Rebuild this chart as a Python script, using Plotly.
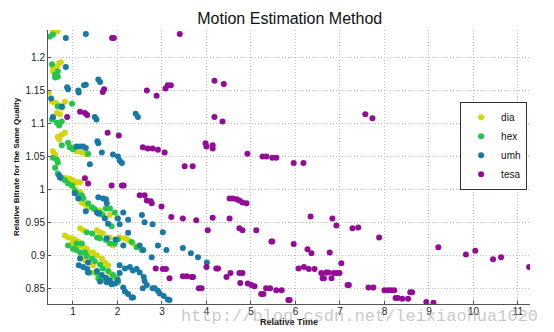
import plotly.graph_objects as go

# Relative time / relative bitrate pairs for each x264 motion estimation method
dia_x = [0.55, 0.64, 0.66, 0.55, 0.60, 0.64, 0.69, 0.55, 0.73,
         0.46, 0.53, 0.60, 0.66, 0.75, 0.82, 0.64, 0.71,
         0.66, 0.75, 0.82, 0.69, 0.98, 1.08, 1.20, 1.27, 1.32, 0.55, 0.60,
         0.78, 0.87, 0.93, 1.00, 1.08, 1.16, 0.98, 1.04, 1.16, 1.20, 1.27, 1.34, 1.45, 1.61, 1.83, 1.99,
         1.16, 1.23, 1.54, 1.61, 1.67, 1.83, 2.05, 2.17, 2.24, 2.35, 1.90,
         0.82, 0.89, 0.98, 1.04, 1.12, 1.16, 1.23, 0.98, 1.04, 1.31, 1.38, 1.45, 1.54, 1.65, 1.72, 1.79,
         1.20, 1.27, 1.34, 1.45, 1.83, 1.94, 1.49]
dia_y = [1.240, 1.240, 1.241, 1.185, 1.182, 1.186, 1.192, 1.179, 1.193,
         1.147, 1.133, 1.132, 1.129, 1.124, 1.133, 1.116, 1.114,
         1.080, 1.083, 1.086, 1.076, 1.064, 1.058, 1.056, 1.055, 1.053, 1.058, 1.053,
         1.018, 1.017, 1.016, 1.014, 1.011, 1.011, 1.006, 1.001, 0.996, 0.980, 0.977, 0.973, 0.971, 0.968, 0.961, 0.957,
         0.941, 0.938, 0.938, 0.935, 0.933, 0.927, 0.927, 0.926, 0.923, 0.918, 0.915,
         0.930, 0.927, 0.926, 0.924, 0.921, 0.915, 0.912, 0.918, 0.912, 0.910, 0.904, 0.904, 0.900, 0.895, 0.889, 0.885,
         0.897, 0.892, 0.889, 0.885, 0.873, 0.867, 0.874]

hex_x = [0.53, 0.60, 0.66, 0.60, 0.66, 0.55, 0.48,
         0.66, 0.75, 0.55, 0.64, 0.69, 0.75, 0.53, 0.98,
         0.75, 0.89, 0.93, 1.00, 0.55, 0.64, 0.66, 1.34,
         0.60, 0.66, 0.75, 0.82, 0.89, 0.98, 1.04, 1.08, 1.20, 1.23, 1.34, 1.43, 1.49, 1.61, 1.67,
         1.83, 1.74, 1.94, 1.87,
         1.31, 1.43, 1.54, 1.61, 1.74, 1.83, 2.01, 2.32, 2.43, 2.55, 1.94,
         0.89, 1.00, 1.08, 1.16, 1.27, 1.31, 1.43, 1.49, 1.61, 1.67, 1.79, 1.90, 1.99, 2.01,
         1.08, 1.20, 1.38, 1.54, 1.65, 1.57]
hex_y = [1.190, 1.174, 1.171, 1.170, 1.179, 1.235, 1.232,
         1.126, 1.125, 1.108, 1.101, 1.097, 1.103, 1.106, 1.130,
         1.067, 1.071, 1.064, 1.061, 1.048, 1.045, 1.041, 1.054,
         1.033, 1.024, 1.017, 1.014, 1.009, 1.006, 0.998, 0.994, 0.991, 0.986, 0.979, 0.973, 0.970, 0.964, 0.961,
         0.971, 0.971, 0.965, 0.944,
         0.935, 0.933, 0.927, 0.926, 0.923, 0.918, 0.924, 0.920, 0.912, 0.908, 0.918,
         0.915, 0.910, 0.908, 0.904, 0.904, 0.899, 0.895, 0.891, 0.886, 0.880, 0.876, 0.870, 0.865, 0.859,
         0.918, 0.918, 0.874, 0.873, 0.862, 0.865]

umh_x = [0.84, 1.29, 0.84, 0.87, 0.89, 1.12, 1.13, 1.25, 1.29, 1.57, 1.61,
         1.49, 1.53, 2.41, 2.46, 0.51, 0.55, 0.75, 1.55, 1.57,
         1.08, 1.16, 1.23, 1.29, 1.65, 1.90, 2.01, 2.05, 2.10, 1.38,
         0.69, 0.71, 1.04, 1.12, 1.29, 1.57, 1.68, 1.74, 1.76, 1.54, 1.58, 1.72, 1.79,
         2.01, 2.05, 2.13, 2.24, 2.55, 2.61, 2.79, 3.02,
         1.76, 1.96, 2.13, 2.24, 2.50, 2.58, 2.77, 2.91, 3.10, 3.47, 3.65, 3.81, 4.01,
         1.16, 1.13, 1.23, 1.32, 1.34, 1.54, 1.65, 1.74, 1.83, 1.76, 1.61, 1.87, 1.94, 2.01, 2.05, 1.34,
         2.05, 2.17, 2.28, 2.35, 2.43, 2.50, 2.59, 2.61, 2.66, 2.57,
         2.13, 2.17, 2.24, 2.32, 2.35,
         2.79, 2.84, 2.91, 2.95, 3.04, 3.13, 3.17]
umh_y = [1.230, 1.236, 1.186, 1.155, 1.152, 1.150, 1.147, 1.158, 1.159, 1.167, 1.163,
         1.110, 1.106, 1.115, 1.110, 1.138, 1.110, 1.126, 1.073, 1.070,
         1.065, 1.065, 1.065, 1.063, 1.056, 1.053, 1.050, 1.044, 1.040, 1.038,
         1.021, 1.018, 0.994, 0.986, 0.967, 0.988, 0.986, 0.985, 0.979, 0.965, 0.963, 0.956, 0.948,
         0.956, 0.947, 0.965, 0.954, 0.961, 0.950, 0.947, 0.935,
         0.926, 0.924, 0.915, 0.934, 0.915, 0.908, 0.897, 0.915, 0.908, 0.911, 0.903, 0.897, 0.889,
         0.895, 0.885, 0.882, 0.879, 0.874, 0.876, 0.870, 0.866, 0.862, 0.859, 0.860, 0.856, 0.857, 0.862, 0.873, 0.889,
         0.885, 0.880, 0.882, 0.877, 0.879, 0.874, 0.867, 0.861, 0.855, 0.850,
         0.851, 0.845, 0.841, 0.836, 0.836,
         0.850, 0.850, 0.846, 0.842, 0.838, 0.833, 0.832]

tesa_x = [1.88, 1.92, 3.40, 1.70, 1.67, 2.66, 2.88, 3.08, 3.13, 3.20,
          4.18, 4.39, 4.18, 4.36, 1.16, 1.27, 1.32, 0.87, 1.78, 2.03,
          2.57, 2.68, 2.79, 2.91, 3.06, 3.98, 4.00, 4.14, 4.14, 4.92, 5.26, 5.35, 5.48,
          7.57, 7.73, 5.57, 5.96, 6.18,
          3.51, 3.69, 1.27, 1.34, 1.87, 2.10, 2.14, 2.50, 2.61, 2.66, 2.75, 2.77, 2.99,
          3.21, 3.47, 3.77, 4.14, 4.03, 4.52, 4.74, 4.81,
          4.52, 4.59, 4.68, 4.74, 4.81, 4.90, 5.12, 5.46, 5.48,
          2.86, 3.02, 3.09, 3.17, 3.47, 3.56, 3.67, 3.70, 3.83, 3.89,
          4.00, 4.22, 4.26, 4.45, 4.54, 4.74, 4.81, 4.76, 4.93, 5.01, 5.08,
          5.23, 5.28, 5.34, 5.43, 5.57, 5.69, 5.84, 5.87,
          5.96, 6.07, 6.19, 6.30, 6.43, 6.27, 6.36, 6.34,
          6.58, 6.69, 6.74, 6.61, 6.64, 6.77, 6.81, 6.83, 6.92, 6.86, 6.93, 6.99, 7.03,
          7.17, 7.20, 7.28, 7.41, 7.64, 7.75, 7.88,
          8.00, 8.08, 8.15, 8.22, 8.25, 8.30, 8.40, 8.53, 8.58, 8.62,
          8.94, 9.10, 9.21, 9.83, 10.04, 10.44, 10.62, 11.25]
tesa_y = [1.230, 1.230, 1.236, 1.152, 1.148, 1.150, 1.142, 1.153, 1.158, 1.158,
          1.165, 1.160, 1.110, 1.103, 1.118, 1.116, 1.113, 1.110, 1.086, 1.082,
          1.064, 1.062, 1.062, 1.060, 1.056, 1.070, 1.065, 1.067, 1.062, 1.054, 1.050, 1.050, 1.048,
          1.114, 1.108, 1.048, 1.040, 1.040,
          1.035, 1.035, 1.017, 1.009, 1.006, 1.006, 1.006, 0.991, 0.991, 0.983, 0.982, 0.979, 0.974,
          0.958, 0.956, 0.953, 0.957, 0.938, 0.956, 0.941, 0.938,
          0.986, 0.986, 0.985, 0.983, 0.980, 0.979, 0.938, 0.921, 0.921,
          0.880, 0.879, 0.879, 0.865, 0.868, 0.868, 0.867, 0.867, 0.850, 0.850,
          0.882, 0.880, 0.880, 0.867, 0.873, 0.873, 0.873, 0.858, 0.857, 0.855, 0.853,
          0.841, 0.841, 0.850, 0.850, 0.847, 0.847, 0.832, 0.832,
          0.917, 0.880, 0.882, 0.879, 0.879, 0.909, 0.903, 0.959,
          0.873, 0.874, 0.874, 0.865, 0.865, 0.904, 0.865, 0.956, 0.945, 0.873, 0.873, 0.873, 0.888,
          0.855, 0.855, 0.941, 0.942, 0.851, 0.851, 0.927,
          0.847, 0.847, 0.847, 0.847, 0.835, 0.835, 0.834, 0.834, 0.844, 0.844,
          0.829, 0.828, 0.912, 0.901, 0.907, 0.894, 0.897, 0.882]

series = [
    ("dia", dia_x, dia_y, "#d2d60e"),
    ("hex", hex_x, hex_y, "#25c44a"),
    ("umh", umh_x, umh_y, "#1878a6"),
    ("tesa", tesa_x, tesa_y, "#930b96"),
]

x_ticks = list(range(1, 12))
y_ticks = [0.85, 0.9, 0.95, 1.0, 1.05, 1.1, 1.15, 1.2]
y_tick_text = ["0.85", "0.9", "0.95", "1", "1.05", "1.1", "1.15", "1.2"]

fig = go.Figure()
for name, xs, ys, color in series:
    fig.add_trace(go.Scatter(
        x=xs, y=ys, mode="markers", name=name,
        marker=dict(color=color, size=6, line=dict(width=0)),
    ))

sans = "Liberation Sans, Arial, sans-serif"
axis_font = dict(family=sans, size=10, color="#222")
grid = dict(showgrid=True, gridcolor="#bdbdbd", griddash="1px,2px", gridwidth=1,
            zeroline=False, showline=True, linecolor="#555", linewidth=1,
            ticks="inside", ticklen=3, tickcolor="#555", tickfont=axis_font,
            automargin=False)

fig.update_layout(
    width=554, height=332,
    margin=dict(l=48, r=24, t=30, b=28),
    paper_bgcolor="white", plot_bgcolor="white",
    title=dict(text="Motion Estimation Method", x=0.523, xanchor="center", y=0.945, yanchor="middle",
               font=dict(family=sans, size=16, color="#111")),
    xaxis=dict(range=[0.44, 11.27], tickvals=x_ticks, ticklabelstandoff=-2,
               title=dict(text="<b>Relative Time</b>", standoff=0,
                          font=dict(family=sans, size=9, color="#111")),
               **grid),
    yaxis=dict(range=[0.826, 1.242], tickvals=y_ticks, ticktext=y_tick_text,
               title=dict(text="<b>Relative Bitrate for the Same Quality</b>", standoff=4,
                          font=dict(family=sans, size=8, color="#111")),
               **grid),
    legend=dict(x=0.855, y=0.738, xanchor="left", yanchor="top", bgcolor="white",
                bordercolor="#333", borderwidth=1, itemsizing="trace",
                font=dict(family=sans, size=10, color="#111"),
                tracegroupgap=0, itemwidth=30),
    annotations=[dict(text="http://blog.csdn.net/leixiaohua1020", x=1.0, y=0, xref="paper",
                      yref="paper", xanchor="right", yanchor="top", yshift=-1, xshift=10,
                      showarrow=False,
                      font=dict(family="Liberation Mono, DejaVu Sans Mono, monospace", size=17,
                                color="rgba(165,165,165,0.6)"))],
)

fig.write_html("out.html")
